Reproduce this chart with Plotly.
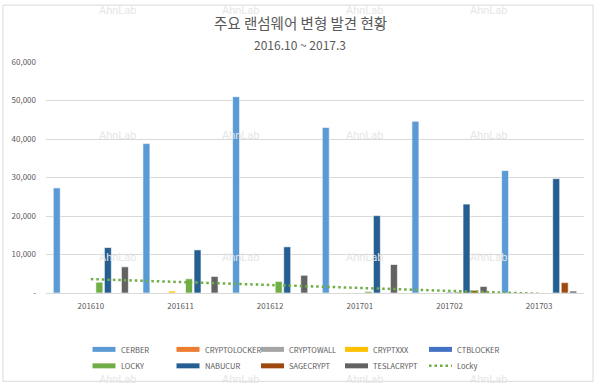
import numpy as np
import plotly.graph_objects as go

months = ["201610", "201611", "201612", "201701", "201702", "201703"]
CERBER = [27300, 38800, 51000, 43000, 44600, 31800]
CRYPTOLOCKER = [0, 0, 0, 0, 0, 0]
CRYPTOWALL = [0, 0, 0, 0, 0, 0]
CRYPTXXX = [0, 500, 0, 0, 0, 0]
CTBLOCKER = [0, 0, 0, 0, 200, 0]
LOCKY = [2800, 3700, 3000, 400, 300, 0]
NABUCUR = [11800, 11200, 12000, 20100, 23100, 29700]
SAGECRYPT = [0, 0, 0, 0, 700, 2700]
TESLACRYPT = [6800, 4300, 4600, 7400, 1700, 500]

series = [
    ("CERBER", CERBER, "#5B9BD5"),
    ("CRYPTOLOCKER", CRYPTOLOCKER, "#ED7D31"),
    ("CRYPTOWALL", CRYPTOWALL, "#A5A5A5"),
    ("CRYPTXXX", CRYPTXXX, "#FFC000"),
    ("CTBLOCKER", CTBLOCKER, "#4472C4"),
    ("LOCKY", LOCKY, "#70AD47"),
    ("NABUCUR", NABUCUR, "#255E91"),
    ("SAGECRYPT", SAGECRYPT, "#9E480E"),
    ("TESLACRYPT", TESLACRYPT, "#636363"),
]
TREND_NAME = "Locky"
TREND_COLOR = "#70AD47"

W, H = 600, 386
L, R, T, B = 46, 16, 62, 92.5
PW, PH = W - L - R, H - T - B


def px_x(x):
    return (x - L) / PW


def px_y(y):
    return (H - B - y) / PH


TXT = "#595959"
FONT = "Noto Sans CJK KR"
DOT = "2.5px,3px"

fig = go.Figure()
for name, vals, col in series:
    fig.add_trace(go.Bar(
        x=months, y=vals, name=name, marker_color=col,
        marker_line=dict(color="rgba(255,255,255,0.6)", width=1),
        showlegend=False,
    ))

# Linear trendline of LOCKY (as in the original chart)
idx = np.arange(1, len(months) + 1)
coef = np.polyfit(idx, LOCKY, 1)
trend = np.polyval(coef, idx)
fig.add_trace(go.Scatter(
    x=months, y=trend, mode="lines", name=TREND_NAME, showlegend=False,
    line=dict(color=TREND_COLOR, width=2.5, dash=DOT),
))

annotations = [
    dict(text="주요 랜섬웨어 변형 발견 현황", x=px_x(W / 2), y=px_y(22),
         xref="paper", yref="paper", showarrow=False, xanchor="center", yanchor="middle",
         font=dict(size=14.5, color=TXT, family=FONT)),
    dict(text="2016.10 ~ 2017.3", x=px_x(W / 2), y=px_y(44),
         xref="paper", yref="paper", showarrow=False, xanchor="center", yanchor="middle",
         font=dict(size=12, color=TXT, family=FONT)),
]
for wy in [10, 136, 258, 380]:
    for wx in [117, 240, 364, 488]:
        annotations.append(dict(
            text="AhnLab", x=px_x(wx), y=px_y(wy), xref="paper", yref="paper",
            showarrow=False, xanchor="center", yanchor="middle",
            font=dict(size=11, color="#e6e6e6", family="Roboto"),
        ))

shapes = [dict(type="rect", xref="paper", yref="paper",
               x0=px_x(3), x1=px_x(593), y0=px_y(382), y1=px_y(5),
               line=dict(color="#d9d9d9", width=1), layer="below")]

# manual legend (two rows of five entries)
col_x = [92.5, 176.5, 261, 345, 429]
row_y = [350, 366.5]
entries = [(n, c, "bar") for n, _, c in series] + [(TREND_NAME, TREND_COLOR, "dot")]
for k, (name, col, kind) in enumerate(entries):
    cx = col_x[k % 5]
    cy = row_y[k // 5]
    if kind == "bar":
        shapes.append(dict(type="rect", xref="paper", yref="paper",
                           x0=px_x(cx), x1=px_x(cx + 23), y0=px_y(cy + 2.5), y1=px_y(cy - 2.5),
                           fillcolor=col, line=dict(width=0)))
    else:
        shapes.append(dict(type="line", xref="paper", yref="paper",
                           x0=px_x(cx), x1=px_x(cx + 23), y0=px_y(cy), y1=px_y(cy),
                           line=dict(color=col, width=2.5, dash=DOT)))
    annotations.append(dict(text=name, x=px_x(cx + 26), y=px_y(cy), xref="paper", yref="paper",
                            showarrow=False, xanchor="left", yanchor="middle",
                            font=dict(size=7.5, color=TXT, family=FONT)))

fig.update_layout(
    width=W, height=H,
    margin=dict(l=L, r=R, t=T, b=B, autoexpand=False),
    paper_bgcolor="white", plot_bgcolor="white",
    barmode="group", bargap=0.145, bargroupgap=0.18,
    showlegend=False,
    font=dict(family=FONT, color=TXT, size=8),
    xaxis=dict(showgrid=False, showline=True, linecolor="#d9d9d9", linewidth=1,
               ticks="", tickfont=dict(size=8, color=TXT), ticklabelstandoff=5),
    yaxis=dict(range=[0, 60000], tickvals=[0, 10000, 20000, 30000, 40000, 50000, 60000],
               ticktext=["-", "10,000", "20,000", "30,000", "40,000", "50,000", "60,000"],
               showgrid=True, gridcolor="#d9d9d9", gridwidth=1, zeroline=False,
               tickfont=dict(size=8, color=TXT), ticklabelstandoff=9),
    annotations=annotations,
    shapes=shapes,
)

fig.write_html("out.html", config={"displayModeBar": False},
               post_script="document.body.style.margin='0';")
